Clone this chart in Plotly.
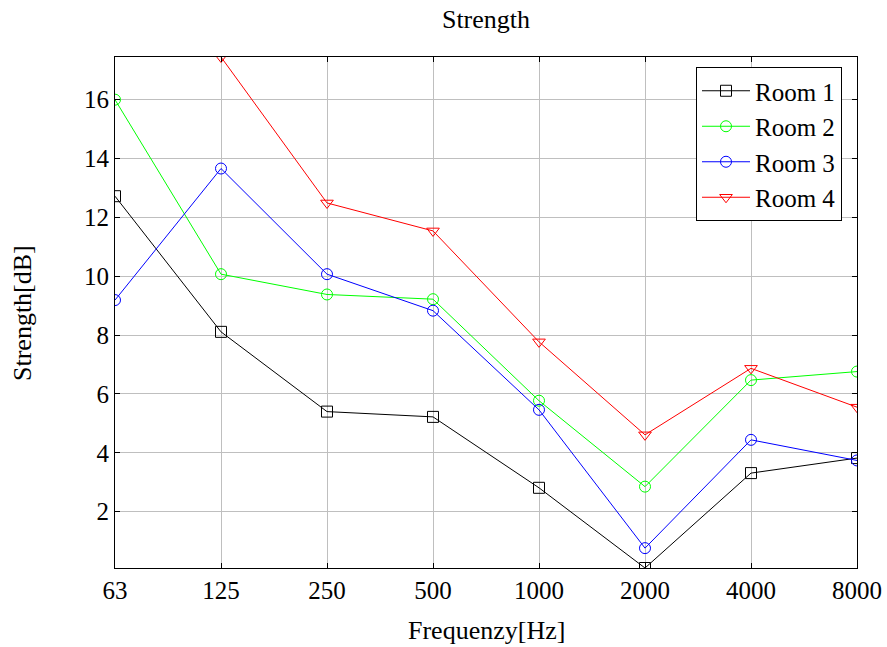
import plotly.graph_objects as go

freqs = ["63", "125", "250", "500", "1000", "2000", "4000", "8000"]
room1 = [12.72, 8.11, 5.40, 5.22, 2.81, 0.085, 3.31, 3.82]
room2 = [16.00, 10.07, 9.38, 9.22, 5.77, 2.85, 6.47, 6.76]
room3 = [9.19, 13.66, 10.07, 8.83, 5.46, 0.76, 4.44, 3.74]
room4 = [None, 17.45, 12.49, 11.54, 7.77, 4.61, 6.87, 5.55]

names = ["Room 1", "Room 2", "Room 3", "Room 4"]
colors = ["#000000", "#00ff00", "#0000ff", "#ff0000"]
symbols = ["square-open", "circle-open", "circle-open", "triangle-down-open"]
series = [room1, room2, room3, room4]

FONT = "Liberation Serif"
L, R, T, B = 115, 30, 57, 79
W, H = 887, 647
PW, PH = W - L - R, H - T - B

fig = go.Figure()
for nm, col, sym, vals in zip(names, colors, symbols, series):
    fig.add_trace(go.Scatter(
        x=freqs, y=vals, name=nm, mode="lines+markers",
        line=dict(color=col, width=1),
        marker=dict(symbol=sym, size=11, color=col, line=dict(width=1, color=col)),
    ))

allv = [v for s in series for v in s if v is not None]
ymin, ymax = min(allv), max(allv)

fig.update_layout(
    width=W, height=H,
    margin=dict(l=L, r=R, t=T, b=B, autoexpand=False),
    paper_bgcolor="white", plot_bgcolor="white",
    font=dict(family=FONT, size=25, color="black"),
    title=dict(text="Strength", xref="paper", x=0.5, xanchor="center",
               yref="container", y=1 - 19 / H, yanchor="middle",
               font=dict(family=FONT, size=26)),
    legend=dict(x=(842 - L) / PW, y=(H - B - 67) / PH, xanchor="right", yanchor="top",
                bordercolor="black", borderwidth=1, bgcolor="white",
                font=dict(family=FONT, size=25), traceorder="normal",
                itemwidth=48),
    xaxis=dict(
        type="category", range=[0, len(freqs) - 1], automargin=False,
        showgrid=True, gridcolor="#bfbfbf", gridwidth=1,
        showline=True, linecolor="black", linewidth=1, mirror="allticks",
        ticks="inside", ticklen=5, tickcolor="black",
        tickfont=dict(family=FONT, size=25),
        zeroline=False,
    ),
    yaxis=dict(
        range=[ymin, ymax], dtick=2, tick0=0, automargin=False,
        showgrid=True, gridcolor="#bfbfbf", gridwidth=1,
        showline=True, linecolor="black", linewidth=1, mirror="allticks",
        ticks="inside", ticklen=5, tickcolor="black",
        tickfont=dict(family=FONT, size=25),
        zeroline=False,
    ),
    annotations=[
        dict(text="Frequenzy[Hz]", xref="paper", yref="paper",
             x=0.5, y=-(630 - (H - B)) / PH, xanchor="center", yanchor="middle",
             showarrow=False, font=dict(family=FONT, size=26)),
        dict(text="Strength[dB]", xref="paper", yref="paper",
             x=-(L - 22) / PW, y=(H - B - 313) / PH, xanchor="center", yanchor="middle",
             textangle=-90, showarrow=False, font=dict(family=FONT, size=26)),
    ],
)

fig.write_html("out.html")
